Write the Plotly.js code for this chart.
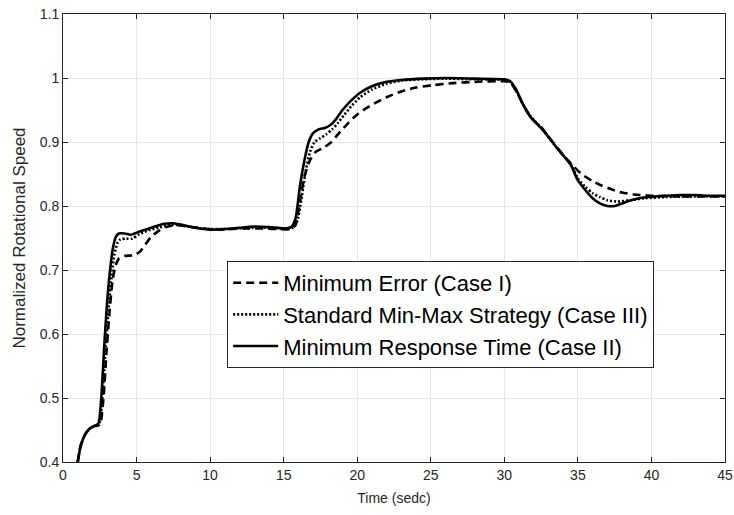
<!DOCTYPE html>
<html>
<head>
<meta charset="utf-8">
<script src="https://cdn.plot.ly/plotly-3.0.1.min.js"></script>
<style>html,body{margin:0;padding:0;background:#fff;}#chart{width:734px;height:515px;}</style>
</head>
<body>
<div id="chart"></div>
<script>
// Case I: Minimum Error (dashed)
const timeCaseI = [1.0,1.2,1.5,1.8,2.1,2.5,2.75,2.95,3.15,3.35,3.55,3.8,4.2,4.8,5.2,5.6,6.0,6.5,7.0,7.6,8.5,9.5,10.5,11.5,12.5,13.5,14.5,15.5,15.8,16.1,16.4,16.8,17.2,17.7,18.2,18.8,19.4,20,20.7,21.4,22,23,24,25.2,26.5,28,30,30.4,30.8,31.2,31.6,32,32.5,33,33.5,34,34.7,35.3,36,36.6,37.3,38,38.8,40,42,45];
const speedCaseI = [0.40,0.425,0.443,0.452,0.456,0.458,0.50,0.57,0.63,0.68,0.705,0.718,0.722,0.723,0.728,0.740,0.752,0.761,0.767,0.770,0.768,0.765,0.763,0.764,0.765,0.765,0.764,0.764,0.77,0.805,0.845,0.872,0.885,0.891,0.899,0.915,0.930,0.943,0.954,0.963,0.970,0.979,0.985,0.989,0.992,0.994,0.995,0.993,0.98,0.962,0.946,0.934,0.923,0.908,0.894,0.88,0.862,0.849,0.839,0.832,0.826,0.821,0.818,0.816,0.815,0.815];

// Case III: Standard Min-Max Strategy (dotted)
const timeCaseIII = [1.0,1.2,1.5,1.8,2.1,2.45,2.7,2.9,3.1,3.3,3.5,3.7,3.9,4.3,4.7,5.2,5.8,6.5,7.3,8,9,10,11,12,13,14,15,15.6,15.9,16.2,16.5,16.8,17.1,17.5,17.9,18.3,18.7,19.1,19.6,20.2,21,22,23,24.5,26,28,30,30.4,30.8,31.2,31.6,32,32.5,33,33.5,34,34.5,35,35.5,36,36.5,37,37.7,38.5,39.5,41,43,45];
const speedCaseIII = [0.40,0.425,0.443,0.452,0.456,0.459,0.51,0.58,0.64,0.69,0.725,0.742,0.748,0.749,0.749,0.756,0.762,0.766,0.771,0.770,0.766,0.764,0.764,0.765,0.766,0.766,0.765,0.766,0.775,0.81,0.855,0.885,0.90,0.906,0.912,0.92,0.93,0.942,0.956,0.97,0.982,0.991,0.996,0.998,0.999,0.998,0.997,0.994,0.98,0.962,0.946,0.934,0.923,0.908,0.893,0.879,0.866,0.843,0.83,0.82,0.814,0.809,0.807,0.809,0.812,0.814,0.815,0.815];

// Case II: Minimum Response Time (solid)
const timeCaseII = [1.0,1.2,1.5,1.8,2.1,2.4,2.6,2.8,3.0,3.2,3.4,3.6,3.8,4.2,4.6,5.2,6.0,6.8,7.5,8.2,9.0,10,11,12,13,14,15,15.5,15.8,16.1,16.4,16.7,17.0,17.4,17.8,18.2,18.6,19.0,19.6,20.2,21.0,22.0,23,24.5,26,28,30,30.4,30.8,31.2,31.6,32.0,32.4,32.8,33.2,33.6,34.0,34.5,35.0,35.5,36.0,36.5,37.0,37.5,38.0,38.8,39.7,41,42,43,44,45];
const speedCaseII = [0.40,0.425,0.443,0.452,0.456,0.460,0.50,0.58,0.65,0.70,0.735,0.752,0.757,0.757,0.755,0.760,0.766,0.772,0.773,0.770,0.766,0.763,0.764,0.766,0.768,0.767,0.765,0.767,0.78,0.83,0.87,0.90,0.914,0.920,0.922,0.927,0.937,0.950,0.965,0.977,0.987,0.994,0.997,0.999,1.0,0.999,0.998,0.995,0.982,0.962,0.945,0.933,0.924,0.914,0.902,0.89,0.879,0.865,0.84,0.825,0.812,0.804,0.800,0.800,0.804,0.810,0.814,0.816,0.817,0.817,0.816,0.816];

const xTicks = [0,5,10,15,20,25,30,35,40,45];
const yTicks = [0.4,0.5,0.6,0.7,0.8,0.9,1,1.1];
const yTickText = ['0.4','0.5','0.6','0.7','0.8','0.9','1','1.1'];

const FONT = 'Liberation Sans, Arial, sans-serif';
const lineStyle = {color:'#000', width:2.6, shape:'spline', smoothing:0.6};
const traces = [
  {x:timeCaseI, y:speedCaseI, mode:'lines', name:'Minimum Error (Case I)',
   line:Object.assign({}, lineStyle, {dash:'8px,5px'})},
  {x:timeCaseIII, y:speedCaseIII, mode:'lines', name:'Standard Min-Max Strategy (Case III)',
   line:Object.assign({}, lineStyle, {dash:'2px,2px'})},
  {x:timeCaseII, y:speedCaseII, mode:'lines', name:'Minimum Response Time (Case II)',
   line:Object.assign({}, lineStyle)}
];

const axisCommon = {
  showgrid:true, gridcolor:'#e6e6e6', gridwidth:1,
  showline:true, linecolor:'#262626', linewidth:1, mirror:'ticks',
  ticks:'inside', ticklen:5, tickcolor:'#262626',
  zeroline:false,
  tickfont:{family:FONT, size:14, color:'#262626'}
};

const layout = {
  width:734, height:515,
  margin:{l:63, r:9, t:14, b:53},
  paper_bgcolor:'#fff', plot_bgcolor:'#fff',
  showlegend:true,
  xaxis:Object.assign({}, axisCommon, {
    range:[0,45], tickvals:xTicks,
    title:{text:'Time (sedc)', font:{family:FONT, size:14, color:'#262626'}, standoff:11}
  }),
  yaxis:Object.assign({}, axisCommon, {
    range:[0.4,1.1], tickvals:yTicks, ticktext:yTickText,
    title:{text:'Normalized Rotational Speed', font:{family:FONT, size:17, color:'#262626'}, standoff:9}
  }),
  legend:{
    x:0.248, y:0.4487, xanchor:'left', yanchor:'top',
    bgcolor:'#fff', bordercolor:'#262626', borderwidth:1,
    font:{family:FONT, size:22, color:'#000'},
    itemwidth:45, tracegroupgap:0
  }
};

Plotly.newPlot('chart', traces, layout, {displayModeBar:false, staticPlot:true});
</script>
</body>
</html>
